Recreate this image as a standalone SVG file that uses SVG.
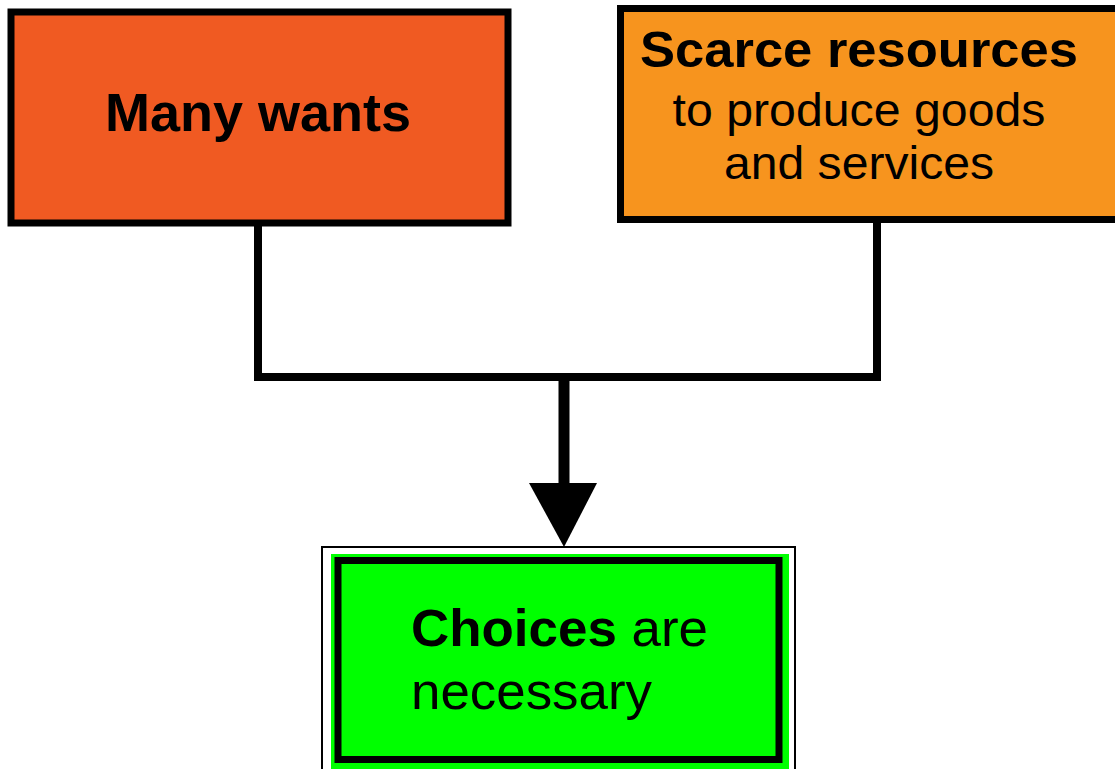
<svg xmlns="http://www.w3.org/2000/svg" width="1115" height="769" viewBox="0 0 1115 769">
<style>
.t{font-family:"Liberation Sans",Arial,sans-serif;fill:#000}
.b{font-weight:bold}
.box{stroke:#000}
.conn{fill:none;stroke:#000;stroke-width:8;stroke-linejoin:miter;stroke-linecap:butt}
</style>
<rect width="1115" height="769" fill="#fff"/>
<g id="many-wants">
<rect class="box" x="11" y="12" width="497" height="211" fill="#F05A22" stroke-width="7"/>
<text class="t b" x="258" y="131" font-size="54" text-anchor="middle">Many wants</text>
</g>
<g id="scarce-resources">
<rect class="box" x="620.5" y="8.5" width="500" height="211" fill="#F7941E" stroke-width="7"/>
<text class="t b" x="859" y="67" font-size="50" text-anchor="middle" textLength="438" lengthAdjust="spacingAndGlyphs">Scarce resources</text>
<text class="t" x="859" y="126" font-size="46" text-anchor="middle" textLength="373" lengthAdjust="spacingAndGlyphs">to produce goods</text>
<text class="t" x="859" y="179" font-size="46" text-anchor="middle" textLength="270" lengthAdjust="spacingAndGlyphs">and services</text>
</g>
<g id="connectors">
<path class="conn" d="M258,223 V377 H877 V219"/>
<path d="M564,377 V485" stroke="#000" stroke-width="11" fill="none"/>
<polygon points="529,483 597,483 564,547" fill="#000"/>
</g>
<g id="choices">
<rect x="322" y="547" width="473" height="230" fill="#fff" stroke="#000" stroke-width="2"/>
<rect x="331" y="554" width="458" height="220" fill="#00FF00"/>
<rect class="box" x="338" y="560.5" width="441" height="199" fill="#00FF00" stroke-width="7"/>
<text class="t" x="411" y="646" font-size="52" textLength="297" lengthAdjust="spacingAndGlyphs"><tspan class="b">Choices</tspan> are</text>
<text class="t" x="411" y="709" font-size="52" textLength="241" lengthAdjust="spacingAndGlyphs">necessary</text>
</g>
</svg>
